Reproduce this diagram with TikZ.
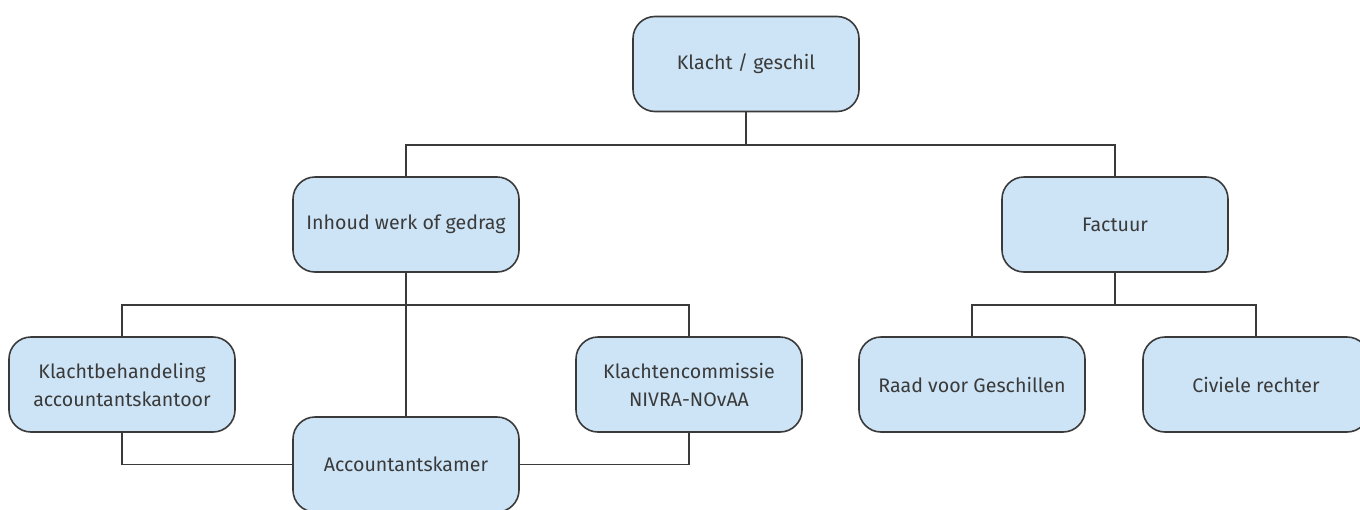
\documentclass[tikz,border=0pt]{standalone}
\usepackage{fontspec}
\setmainfont{Fira Sans}
\usepackage{tikz}
\usetikzlibrary{positioning}
\definecolor{blokblauw}{HTML}{CDE4F6}
\definecolor{randgrijs}{HTML}{3A3A3A}

\begin{document}
\begin{tikzpicture}[x=0.5pt, y=-0.5pt,
    blok/.style={draw=randgrijs, line width=0.8pt, fill=blokblauw, rounded corners=11pt,
        minimum width=113pt, minimum height=47.5pt, align=center, text=randgrijs,
        inner sep=2pt, font=\fontsize{9.8}{14}\selectfont},
    lijn/.style={draw=randgrijs, line width=0.6pt}]
    \useasboundingbox (0,0) rectangle (1360,509);

    % Bovenste niveau
    \node[blok] (klacht) at (746,64) {Klacht / geschil};

    % Tweede niveau
    \node[blok] (inhoud) at (406,224.5) {Inhoud werk of gedrag};
    \node[blok] (factuur) at (1115,224.5) {Factuur};

    % Derde niveau
    \node[blok] (kantoor) at (122,384.5) {Klachtbehandeling\\accountantskantoor};
    \node[blok] (commissie) at (689,384.5) {Klachtencommissie\\NIVRA-NOvAA};
    \node[blok] (raad) at (972,384.5) {Raad voor Geschillen};
    \node[blok] (civiel) at (1256,384.5) {Civiele rechter};
    \node[blok] (kamer) at (406,464.5) {Accountantskamer};

    % Aftakpunten
    \coordinate (tak1) at (746,145);
    \coordinate (tak2) at (406,305);
    \coordinate (tak3) at (1115,305);

    % Verbindingen
    \draw[lijn] (klacht.south) -- (tak1);
    \draw[lijn] (inhoud.north) |- (tak1) -| (factuur.north);
    \draw[lijn] (inhoud.south) -- (kamer.north);
    \draw[lijn] (kantoor.north) |- (tak2) -| (commissie.north);
    \draw[lijn] (factuur.south) -- (tak3);
    \draw[lijn] (raad.north) |- (tak3) -| (civiel.north);

    % Doorverwijzing naar de Accountantskamer
    \draw[lijn] (kantoor.south) |- (kamer.west);
    \draw[lijn] (commissie.south) |- (kamer.east);
\end{tikzpicture}
\end{document}
